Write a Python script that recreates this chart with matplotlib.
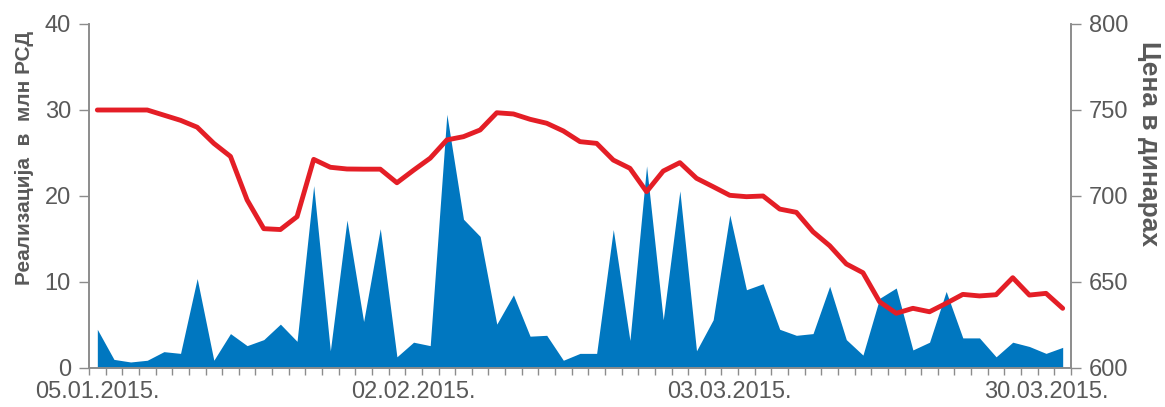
import numpy as np
import pandas as pd
import matplotlib
matplotlib.use("Agg")
import matplotlib.pyplot as plt

plt.rcParams['font.family'] = ['Liberation Sans', 'DejaVu Sans']

# trading days (Serbian holidays left out)
holidays = ['2015-01-07', '2015-02-16', '2015-02-17']
days = pd.bdate_range('2015-01-05', '2015-03-31')
days = days[~days.isin(pd.to_datetime(holidays))]

# turnover, mln RSD
volume = [4.5, 1.0, 0.7, 0.9, 1.9, 1.7, 10.4, 0.9, 4.0, 2.6,
          3.3, 5.1, 3.1, 21.2, 2.0, 17.2, 5.4, 16.2, 1.3, 3.0,
          2.6, 29.5, 17.3, 15.3, 5.1, 8.5, 3.7, 3.8, 0.9, 1.7,
          1.7, 16.1, 3.2, 23.5, 5.6, 20.6, 2.0, 5.6, 17.8, 9.1,
          9.8, 4.5, 3.8, 4.0, 9.5, 3.3, 1.5, 8.1, 9.3, 2.1,
          3.0, 8.9, 3.5, 3.5, 1.3, 3.0, 2.5, 1.7, 2.4]

# price, dinars
price = [750, 750, 750, 750, 747, 744, 740, 730.6, 723, 697.7,
         681, 680.5, 688, 721.3, 716.7, 715.7, 715.6, 715.6, 707.7, 715,
         722, 732.6, 734.5, 738.4, 748.4, 747.7, 744.6, 742.3, 737.8, 731.6,
         730.6, 720.9, 716.1, 702.5, 714.5, 719.4, 710.3, 705.4, 700.4, 699.6,
         700, 692.4, 690.5, 679.2, 671.1, 660.5, 655.4, 638.5, 631.8, 634.7,
         632.7, 637.6, 642.8, 641.9, 642.6, 652.5, 642.4, 643.4, 634.7]

label_step = 19
blue = '#0077C0'
red = '#E41E26'
grey = '#8C8C8C'
txt = '#595959'

x = np.arange(len(days))

fig = plt.figure(figsize=(11.65, 4.07), dpi=100)
ax = fig.add_axes([89/1165, 1 - 368/407, (1071 - 89)/1165, (368 - 24)/407])
ax2 = ax.twinx()

ax.fill_between(x, volume, 0, color=blue, lw=0)
ax2.plot(x, price, color=red, lw=3.5, solid_capstyle='round', solid_joinstyle='round')

ax.set_xlim(-0.5, len(days) - 0.5)
ax.set_ylim(0, 40)
ax2.set_ylim(600, 800)
ax.set_yticks([0, 10, 20, 30, 40])
ax2.set_yticks([600, 650, 700, 750, 800])

# tick marks on category borders, labels on the days
ax.set_xticks(np.arange(-0.5, len(days), 1))
ax.set_xticklabels([])
lab_pos = np.arange(0, len(days), label_step)
ax.set_xticks(lab_pos, minor=True)
ax.set_xticklabels([days[i].strftime('%d.%m.%Y.') for i in lab_pos], minor=True)
ax.tick_params(axis='x', which='major', length=5, width=1, color=grey, direction='out')
ax.tick_params(axis='x', which='minor', length=0, pad=9, labelsize=17, labelcolor=txt)

ax.tick_params(axis='y', length=7, width=1, color=grey, labelsize=17, labelcolor=txt, pad=6)
ax2.tick_params(axis='y', length=7, width=1, color=grey, labelsize=17, labelcolor=txt, pad=6)

for a in (ax, ax2):
    a.spines['top'].set_visible(False)
    for s in ('left', 'right', 'bottom'):
        a.spines[s].set_color(grey)
        a.spines[s].set_linewidth(1.2)

ax.set_ylabel('Реализација  в  млн РСД', fontsize=15, fontweight='bold', color=txt)
ax2.set_ylabel('Цена в динарах', fontsize=19, fontweight='bold', color=txt, rotation=270)
ax.yaxis.set_label_coords(-0.056, 0.61)
ax2.yaxis.set_label_coords(1.092, 0.654)

fig.savefig('out.png', dpi=100)
